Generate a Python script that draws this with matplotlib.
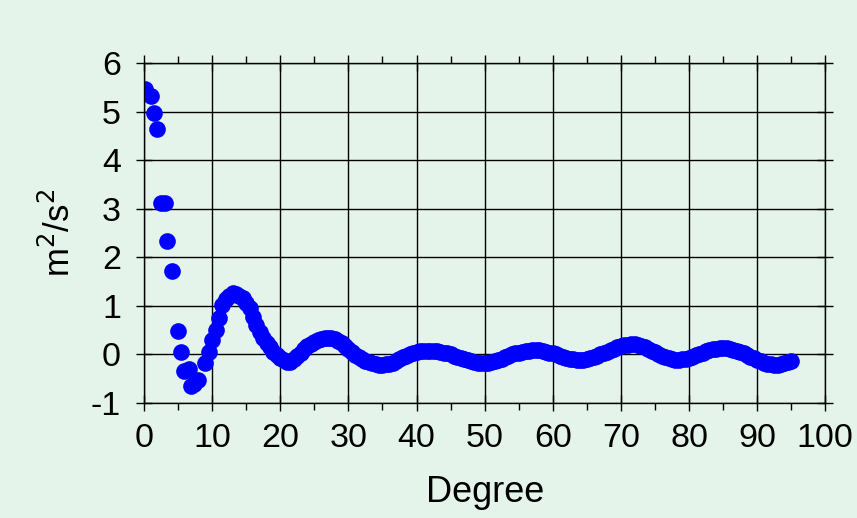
import numpy as np
import matplotlib.pyplot as plt
from matplotlib.ticker import MultipleLocator

#%% Data
# first few, widely spaced samples
early_deg = [0.1, 1.0, 1.5, 1.95, 2.45, 3.1, 3.45, 4.05, 5.0, 5.4, 5.9, 6.6, 6.9, 7.4, 8.0]
early_val = [5.47, 5.33, 4.97, 4.65, 3.12, 3.13, 2.33, 1.72, 0.49, 0.05, -0.34, -0.29,
             -0.64, -0.6, -0.53]

# dense part, every half degree from 9 to 95
dense_deg = np.arange(9.0, 95.01, 0.5)
dense_val = [
    -0.18, 0.05, 0.29, 0.51, 0.75, 1.02, 1.14, 1.20, 1.27, 1.25,   # 9 - 13.5
    1.20, 1.16, 1.07, 0.95, 0.78, 0.60, 0.46, 0.34, 0.24, 0.15,    # 14 - 18.5
    0.06, -0.02, -0.08, -0.12, -0.15, -0.15, -0.10, -0.04, 0.04, 0.12,  # 19 - 23.5
    0.17, 0.22, 0.26, 0.29, 0.32, 0.33, 0.34, 0.33, 0.31, 0.28,    # 24 - 28.5
    0.24, 0.18, 0.12, 0.05, -0.01, -0.06, -0.10, -0.13, -0.16, -0.18,  # 29 - 33.5
    -0.20, -0.21, -0.21, -0.20, -0.19, -0.17, -0.14, -0.10, -0.06, -0.03,  # 34 - 38.5
    0.00, 0.03, 0.05, 0.07, 0.08, 0.08, 0.08, 0.08, 0.07, 0.06,    # 39 - 43.5
    0.04, 0.02, 0.00, -0.03, -0.05, -0.08, -0.10, -0.12, -0.14, -0.16,  # 44 - 48.5
    -0.17, -0.18, -0.18, -0.17, -0.16, -0.14, -0.12, -0.09, -0.06, -0.03,  # 49 - 53.5
    0.00, 0.02, 0.04, 0.06, 0.07, 0.08, 0.09, 0.09, 0.09, 0.08,    # 54 - 58.5
    0.06, 0.04, 0.02, 0.00, -0.03, -0.05, -0.07, -0.09, -0.10, -0.11,  # 59 - 63.5
    -0.11, -0.11, -0.10, -0.08, -0.06, -0.03, 0.00, 0.03, 0.06, 0.09,  # 64 - 68.5
    0.12, 0.15, 0.17, 0.19, 0.20, 0.21, 0.21, 0.20, 0.18, 0.15,    # 69 - 73.5
    0.12, 0.08, 0.05, 0.01, -0.03, -0.06, -0.08, -0.10, -0.11, -0.11,  # 74 - 78.5
    -0.10, -0.09, -0.07, -0.05, -0.02, 0.01, 0.04, 0.07, 0.09, 0.11,  # 79 - 83.5
    0.12, 0.13, 0.13, 0.13, 0.12, 0.10, 0.08, 0.05, 0.02, -0.02,   # 84 - 88.5
    -0.05, -0.08, -0.11, -0.14, -0.17, -0.19, -0.20, -0.21, -0.21, -0.20,  # 89 - 93.5
    -0.18, -0.16, -0.14,                                             # 94 - 95
]

x_ticks = np.arange(0, 101, 10)
y_ticks = np.arange(-1, 7, 1)

bg = "#e4f4ea"

#%% Plot
plt.rcParams["font.family"] = ["Liberation Sans", "DejaVu Sans"]
plt.rcParams["axes.unicode_minus"] = False

fig = plt.figure(figsize=(8.57, 5.18), dpi=100, facecolor=bg)
ax = fig.add_axes([0.168, 0.222, 0.795, 0.656], facecolor=bg)

ax.plot(early_deg, early_val, "o", color="#0000ff", ms=12, mec="none")
ax.plot(dense_deg, dense_val, "o", color="#0000ff", ms=12, mec="none")

ax.set_xlim(0, 100)
ax.set_ylim(-1, 6)
ax.set_xticks(x_ticks)
ax.set_yticks(y_ticks)
ax.xaxis.set_minor_locator(MultipleLocator(5))
ax.grid(True, color="black", lw=1.0)

for s in ax.spines.values():
    s.set_color("black")
    s.set_linewidth(1.0)

ax.tick_params(which="major", direction="inout", length=11, width=1,
               labelsize=24.5, top=True, right=True)
ax.tick_params(axis="x", which="major", pad=9)
ax.tick_params(axis="y", which="major", pad=11)
ax.tick_params(which="minor", direction="out", length=5, width=1, top=True)

ax.set_xlabel("Degree", fontsize=26, labelpad=15)
ax.set_ylabel("m$^2$/s$^2$", fontsize=25, labelpad=10)

fig.savefig("out.png", dpi=100, facecolor=bg)
